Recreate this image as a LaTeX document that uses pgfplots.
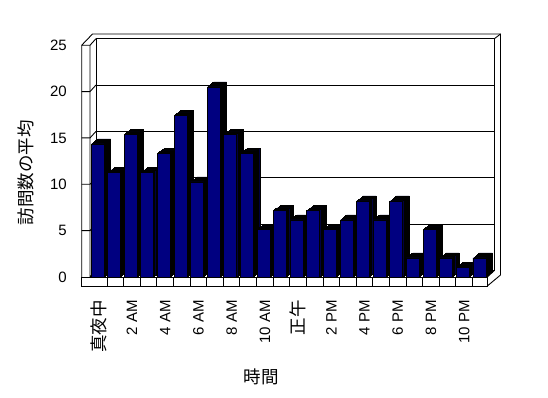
\documentclass[border=0pt]{standalone}
\usepackage{pgfplots}
\pgfplotsset{compat=1.18}
\usepackage{fontspec}
\setmainfont{Liberation Sans}
\newfontfamily\jp{Noto Sans CJK JP}
\definecolor{barfront}{RGB}{0,0,128}
\definecolor{barside}{RGB}{0,0,62}
\newcommand\lat{\fontsize{15}{18}\selectfont}
\newcommand\cjk{\jp\fontsize{17.5}{20}\selectfont}
\begin{document}
\begin{tikzpicture}
% ---- walls (decoration, pixel-like coordinates) ----
\begin{scope}[x=1pt,y=-1pt,shift={(0pt,398pt)},line width=0.9pt]
\path[use as bounding box] (0,0) rectangle (548,398);
% back wall inner face
\draw (96,38.65) rectangle (494.5,270.4);
% gridlines on back wall and left wall
\foreach \v in {5,10,15,20}{
  \draw (96,{270.4-9.27*\v}) -- (494.5,{270.4-9.27*\v});
  \draw (81.7,{277-9.27*\v}) -- (90,{277-9.27*\v}) -- (96,{270.4-9.27*\v});
}
% left wall
\draw (81.7,286) -- (81.7,45.25) -- (90,45.25) -- (96,38.65);
\draw (90,45.25) -- (90,277) -- (96,270.4);
\draw (81.7,45.25) -- (92.5,34) -- (500.5,34) -- (500.5,275);
\draw (494.5,38.65) -- (500.5,34);
\end{scope}

% ---- bars ----
\begin{axis}[
  at={(90.5pt,121pt)}, anchor=south west,
  width=398.5pt, height=237.5pt, scale only axis,
  xmin=-0.5, xmax=23.5, ymin=0, ymax=25,
  clip=false,
  axis line style={draw=none},
  major tick length=0pt,
  ytick=\empty,
  xtick={0,2,...,22},
  xticklabels={{\cjk 真夜中},2 AM,4 AM,6 AM,8 AM,10 AM,{\cjk 正午},2 PM,4 PM,6 PM,8 PM,10 PM},
  xticklabel style={rotate=90, anchor=east, inner sep=0pt, font=\lat},
  xticklabel shift=23pt,
  ybar, bar width=13pt, bar shift=-1.3pt,
]
\addplot[fill=barfront, draw=black, line width=0.8pt,
  preaction={fill=barside, draw=black, line width=0.8pt, transform canvas={xshift=6.5pt,yshift=5pt}},
  preaction={fill=barside, transform canvas={xshift=5.4pt,yshift=4.17pt}},
  preaction={fill=barside, transform canvas={xshift=4.33pt,yshift=3.33pt}},
  preaction={fill=barside, transform canvas={xshift=3.25pt,yshift=2.5pt}},
  preaction={fill=barside, transform canvas={xshift=2.17pt,yshift=1.67pt}},
  preaction={fill=barside, transform canvas={xshift=1.08pt,yshift=0.83pt}},
] coordinates {
(0,14) (1,11) (2,15) (3,11) (4,13) (5,17) (6,10) (7,20) (8,15) (9,13) (10,5) (11,7)
(12,6) (13,7) (14,5) (15,6) (16,8) (17,6) (18,8) (19,2) (20,5) (21,2) (22,1) (23,2)
};
\end{axis}

% ---- y tick labels (front plane scale) ----
\begin{axis}[
  at={(90.5pt,121pt)}, anchor=south west,
  width=398.5pt, height=231.75pt, scale only axis,
  xmin=0, xmax=1, ymin=0, ymax=25,
  axis line style={draw=none},
  major tick length=0pt,
  xtick=\empty,
  ytick={0,5,...,25},
  /pgf/number format/assume math mode=true,
  yticklabel style={anchor=east, inner sep=0pt, font=\lat},
  yticklabel shift=23.5pt,
]
\end{axis}

% ---- floor front face and titles ----
\begin{scope}[x=1pt,y=-1pt,shift={(0pt,398pt)},line width=0.9pt]
\draw[fill=white] (81.7,277) rectangle (487.3,286);
\foreach \k in {1,...,23}{
  \draw ({90.5+16.604*\k},277) -- ({90.5+16.604*\k},286);
}
\draw (487.3,277) -- (494.5,270.4);
\draw (487.3,286) -- (500.5,275);
\node[rotate=90, font=\cjk] at (26,173) {訪問数の平均};
\node[font=\cjk] at (261,376.5) {時間};
\end{scope}
\end{tikzpicture}
\end{document}
